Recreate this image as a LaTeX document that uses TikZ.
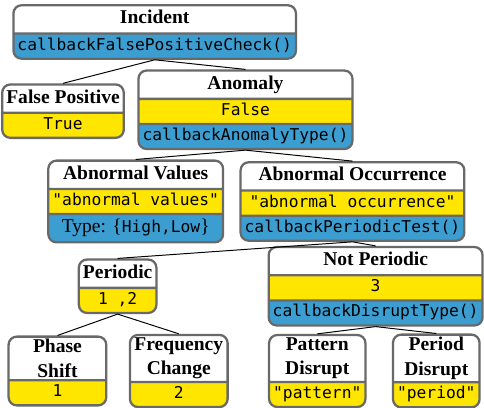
\documentclass[tikz,border=0pt]{standalone}
\usepackage{fontspec}
\setmainfont{Liberation Serif}
\setmonofont{DejaVu Sans Mono}
\usepackage{tikz}
\usetikzlibrary{shapes.multipart}
\usepackage{xcolor}
\definecolor{tagyellow}{RGB}{255,230,0}
\definecolor{tagblue}{RGB}{60,158,208}
\definecolor{boxgray}{RGB}{105,105,105}
\newcommand{\ttl}[1]{{\large\bfseries\strut #1}}
\newcommand{\ttb}[1]{{\large\bfseries #1}}
\newcommand{\cd}[1]{{\ttfamily\strut #1}}

\begin{document}
\begin{tikzpicture}[scale=1.0]
    \tikzset{
        cat/.style={
            rectangle split,
            rectangle split parts=#1,
            rectangle split part fill={white,tagyellow,tagblue},
            draw=boxgray,
            line width=1.4pt,
            rounded corners=5pt,
            inner xsep=2.5pt,
            inner ysep=1pt,
            align=center
        },
        top cat/.style={cat=2, rectangle split part fill={white,tagblue}},
        branch/.style={draw=black, line width=0.6pt},
    }
    \useasboundingbox (0,0) rectangle (10.45,-8.79);

    \node[top cat] (cat0-1) at (3.34,-0.69) {\ttl{Incident}\nodepart{two}\cd{callbackFalsePositiveCheck()}};

    \node[cat=2] (cat1-1) at (1.36,-2.40) {\ttl{False Positive}\nodepart{two}\cd{True}};
    \node[cat=3] (cat1-2) at (5.30,-2.37) {\ttl{Anomaly}\nodepart{two}\cd{False}\nodepart{three}\cd{callbackAnomalyType()}};

    \node[cat=3] (cat2-1) at (2.93,-4.35) {\ttl{Abnormal Values}\nodepart{two}\cd{"abnormal values"}\nodepart{three}{\large\strut Type: \{{\normalsize\ttfamily High,Low}\}}};
    \node[cat=3] (cat2-2) at (7.61,-4.35) {\ttl{Abnormal Occurrence}\nodepart{two}\cd{"abnormal occurrence"}\nodepart{three}\cd{callbackPeriodicTest()}};

    \node[cat=2] (cat3-1) at (2.54,-6.18) {\ttl{Periodic}\nodepart{two}\cd{1 ,2}};
    \node[cat=3] (cat3-2) at (8.11,-6.18) {\ttl{Not Periodic}\nodepart{two}\cd{3}\nodepart{three}\cd{callbackDisruptType()}};

    % bottom row, two-line titles
    \node[cat=2, minimum width=60pt] (cat4-1) at (1.24,-8.01) {\ttb{Phase}\\[3pt]\ttb{Shift}\nodepart{two}\cd{1}};
    \node[cat=2, minimum width=60pt] (cat4-2) at (3.86,-8.01) {\ttb{Frequency}\\[3pt]\ttb{Change}\nodepart{two}\cd{2}};
    \node[cat=2] (cat4-3) at (6.85,-8.01) {\ttb{Pattern}\\[3pt]\ttb{Disrupt}\nodepart{two}\cd{"pattern"}};
    \node[cat=2] (cat4-4) at (9.42,-8.01) {\ttb{Period}\\[3pt]\ttb{Disrupt}\nodepart{two}\cd{"period"}};

    \draw[branch] (cat0-1.south) -- (cat1-1.north);
    \draw[branch] (cat0-1.south) -- (cat1-2.north);
    \draw[branch] (cat1-2.south) -- (cat2-1.north);
    \draw[branch] (cat1-2.south) -- (cat2-2.north);
    \draw[branch] (cat2-2.south) -- (cat3-1.north);
    \draw[branch] (cat2-2.south) -- (cat3-2.north);
    \draw[branch] (cat3-1.south) -- (cat4-1.north);
    \draw[branch] (cat3-1.south) -- (cat4-2.north);
    \draw[branch] (cat3-2.south) -- (cat4-3.north);
    \draw[branch] (cat3-2.south) -- (cat4-4.north);
\end{tikzpicture}
\end{document}
